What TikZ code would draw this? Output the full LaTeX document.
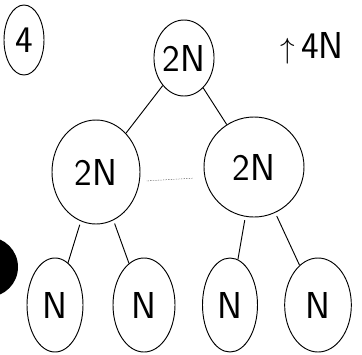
\documentclass[tikz,border=0pt]{standalone}
\usetikzlibrary{shapes.geometric}
\begin{document}
\begin{tikzpicture}[x=0.03cm, y=-0.03cm,
    bubble/.style={draw, ellipse, thick, inner sep=0pt,
      font=\sffamily\fontsize{32}{34}\selectfont}]
  \useasboundingbox (0,0) rectangle (362,354);
  \begin{scope}
    \clip (0,0) rectangle (362,354);
    \fill (-12,267) circle (30);
  \end{scope}
  \node[bubble, minimum width=1.2cm, minimum height=2.1cm] (num) at (24,40) {4};
  \node[bubble, minimum width=1.56cm, minimum height=2.28cm] (root) at (184,58) {2N};
  \node[font=\sffamily\fontsize{32}{34}\selectfont] (up) at (312,48) {$\uparrow$\,4N};
  \node[bubble, minimum width=2.64cm, minimum height=3.12cm] (lc) at (96,172) {2N};
  \node[bubble, minimum width=3.0cm, minimum height=3.0cm] (rc) at (254,167) {2N};
  \foreach \name/\x/\w in {la/55/1.68, lb/144/1.86, lc2/230/1.65, ld/318/2.0}
    \node[bubble, minimum width=\w cm, minimum height=2.82cm] (\name) at (\x,305) {N};
  \draw[thick] (root) -- (lc);
  \draw[thick] (root) -- (rc);
  \draw[densely dotted, shorten <=6pt, shorten >=10pt] (lc.-12) -- (rc.-168);
  \draw[thick, shorten <=3pt] (lc) -- (la);
  \draw[thick, shorten <=3pt] (lc) -- (lb);
  \draw[thick, shorten <=3pt] (rc) -- (lc2);
  \draw[thick, shorten <=3pt] (rc) -- (ld);
\end{tikzpicture}
\end{document}
